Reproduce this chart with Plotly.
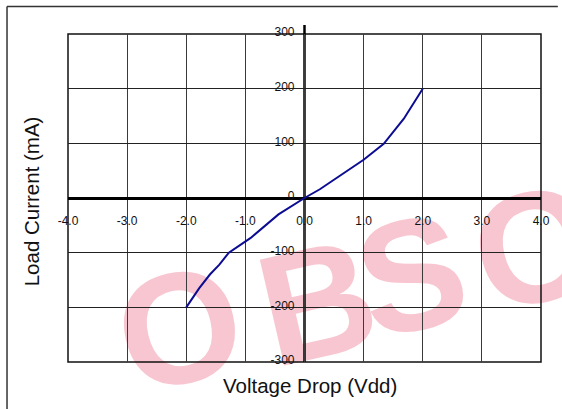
import plotly.graph_objects as go

# data
voltage = [-2.0, -1.78, -1.6, -1.44, -1.28, -0.91, -0.44, 0.0, 0.26, 0.74, 1.0, 1.34, 1.68, 2.0]
current = [-200, -165, -140, -122, -100, -73, -30, 0, 16, 50, 70, 99, 145, 200]
x_ticks = [-4, -3, -2, -1, 0, 1, 2, 3, 4]
x_tick_text = ["-4.0", "-3.0", "-2.0", "-1.0", "0.0", "1.0", "2.0", "3.0", "4.0"]
y_ticks = [-300, -200, -100, 0, 100, 200, 300]
y_tick_text = ["-300", "-200", "-100", "0", "100", "200", "300"]
watermark_letters = ["O", "B", "S", "O"]

FONT = "Liberation Sans, Arial, sans-serif"
W, H = 562, 409
ML, MR, MT, MB = 68, 17, 34, 47
PW, PH = W - ML - MR, H - MT - MB


def px(x):
    return (x - ML) / PW


def py(y):
    return (H - MB - y) / PH


fig = go.Figure()
fig.add_trace(go.Scatter(x=voltage, y=current, mode="lines",
                         line=dict(color="#0c0c92", width=2), hoverinfo="skip",
                         showlegend=False))

# watermark letter centres (pixels)
wm_centres = [(177, 313), (316, 287), (411, 260), (536, 232)]
shapes = []
for letter, (cx, cy) in zip(watermark_letters, wm_centres):
    shapes.append(dict(
        type="rect", xref="paper", yref="paper",
        x0=px(cx - 2), x1=px(cx + 2), y0=py(cy + 2), y1=py(cy - 2),
        line=dict(width=0), fillcolor="rgba(0,0,0,0)", layer="below",
        label=dict(text=letter, textangle=-13, textposition="middle center",
                   font=dict(size=158, color="#f8c6d0", family=FONT, weight="bold"))))

shapes += [
    # plot frame
    dict(type="rect", xref="paper", yref="paper", x0=0, x1=1, y0=0, y1=1,
         line=dict(color="#111", width=1.5), layer="between"),
    # vertical axis line
    dict(type="line", xref="x", yref="paper", x0=0, x1=0, y0=0, y1=py(25),
         line=dict(color="#000", width=2.5), layer="between"),
    # outer image border (top and left)
    dict(type="line", xref="paper", yref="paper",
         x0=px(6.5), x1=px(562), y0=py(6.5), y1=py(6.5),
         line=dict(color="#333", width=1.5), layer="above"),
    dict(type="line", xref="paper", yref="paper",
         x0=px(6.5), x1=px(6.5), y0=py(6.5), y1=py(409),
         line=dict(color="#333", width=1.5), layer="above"),
]

fig.update_layout(
    width=W, height=H,
    margin=dict(l=ML, r=MR, t=MT, b=MB),
    paper_bgcolor="white", plot_bgcolor="white",
    font=dict(family=FONT, color="#111"),
    shapes=shapes,
    xaxis=dict(range=[-4, 4], tickvals=x_ticks, ticktext=x_tick_text,
               showgrid=True, gridcolor="#3a3a3a", gridwidth=1,
               zeroline=False, showline=False, ticks="",
               anchor="free", position=0.5, ticklabelstandoff=14,
               tickfont=dict(size=12, color="#111", family=FONT)),
    yaxis=dict(range=[-300, 300], tickvals=y_ticks, ticktext=y_tick_text,
               showgrid=True, gridcolor="#222", gridwidth=1,
               zeroline=True, zerolinecolor="#000", zerolinewidth=2.5,
               showline=False, ticks="",
               anchor="free", position=0.5, ticklabelstandoff=10,
               ticklabelshift=-2,
               tickfont=dict(size=12, color="#111", family=FONT)),
    annotations=[
        dict(text="Voltage Drop (Vdd)", xref="paper", yref="paper",
             x=px(312), y=py(385), xanchor="center", yanchor="middle",
             showarrow=False,
             font=dict(size=20.5, color="#111", family=FONT)),
        dict(text="Load Current (mA)", xref="paper", yref="paper",
             x=px(31), y=py(201), xanchor="center", yanchor="middle",
             showarrow=False, textangle=-90,
             font=dict(size=20.5, color="#111", family=FONT)),
    ],
)

fig.write_html("out.html")
